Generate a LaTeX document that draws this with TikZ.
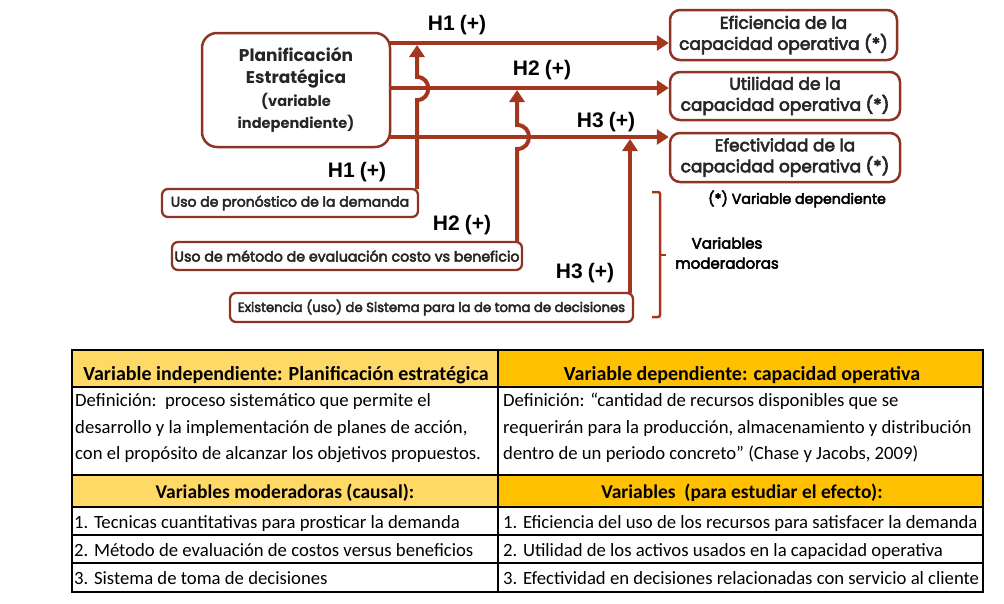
\documentclass[tikz,border=0pt]{standalone}
\usepackage{fontspec}
\setmainfont{Carlito}
\newfontfamily\gothic{Poppins}
\newfontfamily\gothicmed[FakeBold=3.5]{Poppins}
\newfontfamily\arialf{Liberation Sans}
\usetikzlibrary{arrows.meta,calc}
\definecolor{rust}{HTML}{A4361E}
\definecolor{boxc}{HTML}{8E3424}
\definecolor{txt}{HTML}{262626}
\definecolor{goldA}{HTML}{FFD966}
\definecolor{goldB}{HTML}{FFC000}
\newcommand\planA{\gothic\bfseries\fontsize{17}{22.5}\selectfont}
\newcommand\planB{\gothic\bfseries\fontsize{14.6}{22}\selectfont}
\tikzset{
  planbox/.style={draw=boxc, line width=2.5pt, rounded corners=15pt, fill=white, align=center, text=txt, inner sep=0pt},
  depbox/.style={draw=boxc, line width=2.5pt, rounded corners=10pt, fill=white, align=center, text=txt, inner sep=0pt,
     font=\gothicmed\fontsize{17}{21}\selectfont},
  modbox/.style={draw=boxc, line width=2.3pt, rounded corners=6pt, fill=white, align=center, text=txt, inner sep=0pt,
     font=\gothicmed\fontsize{14}{16}\selectfont},
  hlab/.style={font=\arialf\bfseries\fontsize{21}{24}\selectfont, text=black, inner sep=0pt},
  link/.style={draw=rust, line width=4pt, -{Triangle[length=12pt,width=15pt]}},
  note/.style={font=\gothicmed\fontsize{14.2}{20}\selectfont, text=black, inner sep=0pt, align=center},
  hdr/.style={font=\bfseries\fontsize{20}{22}\selectfont, inner sep=0pt, anchor=base},
  shdr/.style={font=\bfseries\fontsize{19.5}{22}\selectfont, inner sep=0pt, anchor=base},
  cell/.style={font=\fontsize{18.7}{20}\selectfont, inner sep=0pt, anchor=base west},
  rule/.style={draw=black, line width=2.2pt},
  thin/.style={draw=black, line width=1.4pt}
}
\newcommand\hsp{\hspace{5pt}}
\begin{document}
\begin{tikzpicture}[x=1pt,y=-1pt]
\useasboundingbox (0,0) rectangle (1004,603);

% ---------- nodes of the diagram ----------
\node[planbox, minimum width=188pt, minimum height=114pt, font=\planA] (plan) at (296,90)
  {\planA Planificación\\\planA Estratégica\\\planB (variable\\\planB independiente)};

\node[depbox, minimum width=227pt, minimum height=50pt] (t1) at (783.5,35) {Eficiencia de la\\capacidad operativa (*)};
\node[depbox, minimum width=230pt, minimum height=48pt] (t2) at (785,96) {Utilidad de la\\capacidad operativa (*)};
\node[depbox, minimum width=230pt, minimum height=49pt] (t3) at (785,157.5) {Efectividad de la\\capacidad operativa (*)};

\node[modbox, minimum width=256pt, minimum height=28pt] (mA) at (290,203) {Uso de pronóstico de la demanda};
\node[modbox, minimum width=350pt, minimum height=28pt, font=\gothicmed\fontsize{14.2}{16}\selectfont] (mB) at (347,256) {Uso de método de evaluación costo vs beneficio};
\node[modbox, minimum width=403pt, minimum height=29pt, font=\gothicmed\fontsize{13.2}{16}\selectfont] (mC) at (431.5,307.5) {Existencia (uso) de Sistema para la de toma de decisiones};

\node[note] (dep) at (797,199) {(*) Variable dependiente};
\node[note, font=\gothicmed\fontsize{15}{20}\selectfont] (mod) at (727,253) {Variables\\moderadoras};

\node[hlab] (h1a) at (457,25) {H1\hsp(+)};
\node[hlab] (h2a) at (542,70) {H2\hsp(+)};
\node[hlab] (h3a) at (606,122) {H3\hsp(+)};
\node[hlab] (h1b) at (357,172) {H1\hsp(+)};
\node[hlab] (h2b) at (462,225) {H2\hsp(+)};
\node[hlab] (h3b) at (585,273) {H3\hsp(+)};

% ---------- connector coordinates ----------
\coordinate (s1) at (389,43);
\coordinate (s2) at (389,88);
\coordinate (s3) at (389,137);
\coordinate (v1) at (417,189);
\coordinate (v1t) at (417,45);
\coordinate (v2) at (517,242);
\coordinate (v2t) at (517,90);
\coordinate (v3) at (630,293);
\coordinate (v3t) at (630,139);

% horizontal arrows
\draw[link] (s1) -- (t1.west |- s1);
\draw[link] (s2) -- (t2.west |- s2);
\draw[link] (s3) -- (t3.west |- s3);

% vertical arrows with hops
\draw[link] (v1) -- (417,100) .. controls (432,100) and (432,77) .. (417,77) -- (v1t);
\draw[link] (v2) -- (517,149) .. controls (533,149) and (533,125) .. (517,125) -- (v2t);
\draw[link] (v3) -- (v3t);

% bracket
\draw[draw=rust, line width=2.5pt, rounded corners=2pt] (652,192) -- (660,192) -- (660,317) -- (652,317);
\draw[draw=rust, line width=2.5pt] (660,255) -- (666,255);

% ---------- table ----------
\fill[goldA] (72,350) rectangle (498,387);
\fill[goldB] (498,350) rectangle (983,387);
\fill[goldA] (72,475) rectangle (498,507);
\fill[goldB] (498,475) rectangle (983,507);
\draw[thin] (72,535) -- (983,535);
\draw[thin] (72,563) -- (983,563);
\draw[rule] (72,387) -- (983,387);
\draw[rule] (72,475) -- (983,475);
\draw[rule] (72,507) -- (983,507);
\draw[rule] (498,350) -- (498,592);
\draw[rule] (72,350) rectangle (983,592);

\node[hdr] (hl) at (286,380) {Variable independiente: Planificación estratégica};
\node[hdr] (hr) at (742,380) {Variable dependiente: capacidad operativa};
\node[cell] (dl1) at (75,406.5) {Definición:\ \ proceso sistemático que permite el};
\node[cell] (dl2) at (75,433) {desarrollo y la implementación de planes de acción,};
\node[cell] (dl3) at (75,459.5) {con el propósito de alcanzar los objetivos propuestos.};
\node[cell] (dr1) at (503,406.5) {Definición: “cantidad de recursos disponibles que se};
\node[cell] (dr2) at (503,433) {requerirán para la producción, almacenamiento y distribución};
\node[cell] (dr3) at (503,459.5) {dentro de un periodo concreto” (Chase y Jacobs, 2009)};
\node[shdr] (sl) at (285,498.5) {Variables moderadoras (causal):};
\node[shdr] (sr) at (742,498.5) {Variables\ \ (para estudiar el efecto):};
\node[cell] (l1) at (74,528) {1. Tecnicas cuantitativas para prosticar la demanda};
\node[cell] (l2) at (74,556) {2. Método de evaluación de costos versus beneficios};
\node[cell] (l3) at (74,584) {3. Sistema de toma de decisiones};
\node[cell] (r1) at (503,528) {1. Eficiencia del uso de los recursos para satisfacer la demanda};
\node[cell] (r2) at (503,556) {2. Utilidad de los activos usados en la capacidad operativa};
\node[cell] (r3) at (503,584) {3. Efectividad en decisiones relacionadas con servicio al cliente};
\end{tikzpicture}
\end{document}
